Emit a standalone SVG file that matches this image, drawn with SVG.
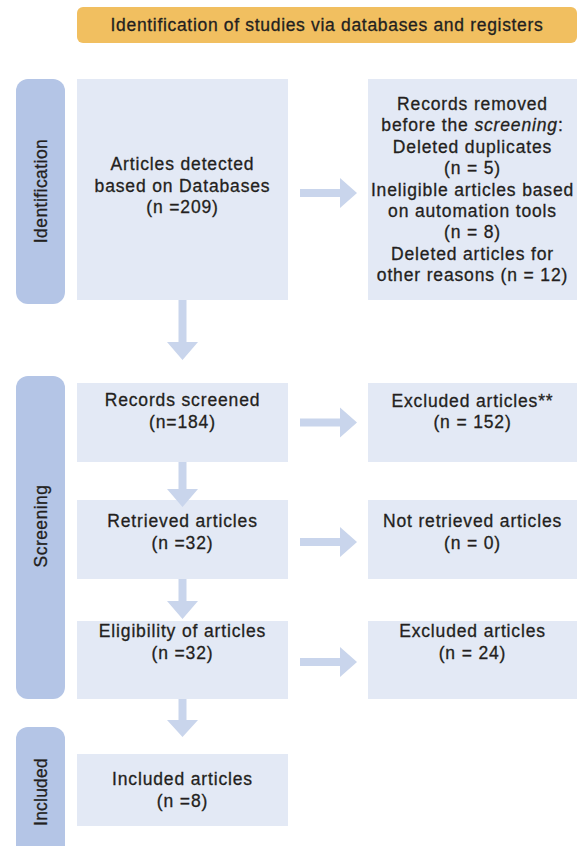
<svg xmlns="http://www.w3.org/2000/svg" width="577" height="846" viewBox="0 0 577 846">
<style>
.t{font-family:"Liberation Sans",Arial,sans-serif;font-size:17.5px;letter-spacing:0.85px;fill:#231F20;stroke:#231F20;stroke-width:0.3;text-anchor:middle}
.box{fill:#E3E9F5}
.side{fill:#B4C5E6}
.arr{fill:#C9D5EC}
</style>
<rect width="577" height="846" fill="#FFFFFF"/>
<g id="header">
<rect x="77" y="7" width="500" height="36" rx="6" fill="#F1BF60"/>
<text class="t" x="327" y="30.5" style="letter-spacing:0.68px">Identification of studies via databases and registers</text>
</g>
<g id="stage-identification">
<rect class="side" x="16" y="79" width="49" height="225" rx="12"/>
<text class="t" transform="translate(46.5,191) rotate(-90)" style="letter-spacing:0.45px">Identification</text>
</g>
<g id="stage-screening">
<rect class="side" x="16" y="376" width="49" height="323" rx="12"/>
<text class="t" transform="translate(46.5,526) rotate(-90)" style="letter-spacing:0.45px">Screening</text>
</g>
<g id="stage-included">
<rect class="side" x="16" y="727" width="49" height="140" rx="12"/>
<text class="t" transform="translate(46.5,792) rotate(-90)" style="letter-spacing:0.2px">Included</text>
</g>
<g id="detected">
<rect class="box" x="77" y="79" width="211" height="221"/>
<text class="t" x="182.5" y="170">Articles detected</text>
<text class="t" x="182.5" y="191.5">based on Databases</text>
<text class="t" x="182.5" y="213">(n =209)</text>
</g>
<g id="removed">
<rect class="box" x="368" y="79" width="209" height="221"/>
<text class="t" x="472.5" y="110">Records removed</text>
<text class="t" x="472.5" y="131.4">before the <tspan font-style="italic">screening</tspan>:</text>
<text class="t" x="472.5" y="152.8">Deleted duplicates</text>
<text class="t" x="472.5" y="174.2">(n = 5)</text>
<text class="t" x="472.5" y="195.6">Ineligible articles based</text>
<text class="t" x="472.5" y="217">on automation tools</text>
<text class="t" x="472.5" y="238.4">(n = 8)</text>
<text class="t" x="472.5" y="259.8">Deleted articles for</text>
<text class="t" x="472.5" y="281.2">other reasons (n = 12)</text>
</g>
<g id="screened">
<rect class="box" x="77" y="383" width="211" height="79"/>
<text class="t" x="182.5" y="406">Records screened</text>
<text class="t" x="182.5" y="428">(n=184)</text>
</g>
<g id="excluded1">
<rect class="box" x="368" y="383" width="209" height="79"/>
<text class="t" x="472.5" y="407">Excluded articles**</text>
<text class="t" x="472.5" y="428">(n = 152)</text>
</g>
<g id="retrieved">
<rect class="box" x="77" y="500" width="211" height="79"/>
<text class="t" x="182.5" y="527">Retrieved articles</text>
<text class="t" x="182.5" y="549">(n =32)</text>
</g>
<g id="notretrieved">
<rect class="box" x="368" y="500" width="209" height="79"/>
<text class="t" x="472.5" y="527">Not retrieved articles</text>
<text class="t" x="472.5" y="549">(n = 0)</text>
</g>
<g id="eligibility">
<rect class="box" x="77" y="621" width="211" height="78"/>
<text class="t" x="182.5" y="637">Eligibility of articles</text>
<text class="t" x="182.5" y="659">(n =32)</text>
</g>
<g id="excluded2">
<rect class="box" x="368" y="621" width="209" height="78"/>
<text class="t" x="472.5" y="637">Excluded articles</text>
<text class="t" x="472.5" y="659">(n = 24)</text>
</g>
<g id="included">
<rect class="box" x="77" y="754" width="211" height="72"/>
<text class="t" x="182.5" y="785">Included articles</text>
<text class="t" x="182.5" y="807">(n =8)</text>
</g>
<g id="connectors">
<polygon class="arr" points="300,189 340,189 340,178 357,193 340,208 340,197 300,197"/>
<polygon class="arr" points="300,418.5 340,418.5 340,407.5 357,422.5 340,437.5 340,426.5 300,426.5"/>
<polygon class="arr" points="300,538 340,538 340,527 357,542 340,557 340,546 300,546"/>
<polygon class="arr" points="300,658 340,658 340,647 357,662 340,677 340,666 300,666"/>
<polygon class="arr" points="178.5,300 186.5,300 186.5,342 198,342 182.5,360 167,342 178.5,342"/>
<polygon class="arr" points="178.5,462 186.5,462 186.5,489 198,489 182.5,507 167,489 178.5,489"/>
<polygon class="arr" points="178.5,579 186.5,579 186.5,601 198,601 182.5,619 167,601 178.5,601"/>
<polygon class="arr" points="178.5,699 186.5,699 186.5,720 198,720 182.5,737 167,720 178.5,720"/>
</g>
</svg>
